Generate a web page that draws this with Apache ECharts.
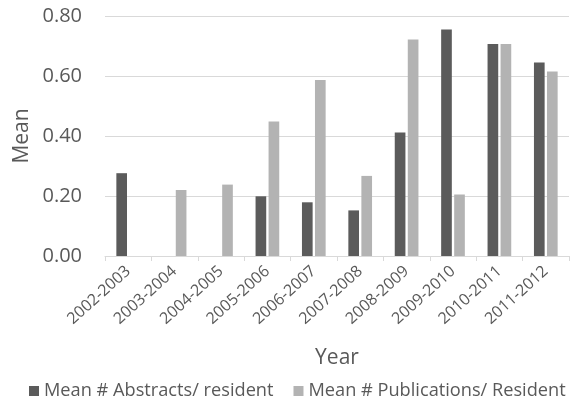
<!DOCTYPE html>
<html><head><meta charset="utf-8">
<script src="https://cdn.jsdelivr.net/npm/echarts@6/dist/echarts.min.js"></script>
<style>html,body{margin:0;padding:0;background:#fff}#c{width:587px;height:400px}</style>
</head><body><div id="c"></div>
<script>
const categories = ['2002-2003','2003-2004','2004-2005','2005-2006','2006-2007','2007-2008','2008-2009','2009-2010','2010-2011','2011-2012'];
const abstracts = [0.276, null, null, 0.199, 0.179, 0.152, 0.412, 0.755, 0.707, 0.645];
const publications = [null, 0.220, 0.238, 0.448, 0.587, 0.267, 0.722, 0.205, 0.707, 0.615];
const yTicks = [0, 0.2, 0.4, 0.6, 0.8];
const FONT = '"Open Sans", "Noto Sans", sans-serif';
const chart = echarts.init(document.getElementById('c'));
chart.setOption({
  animation: false,
  textStyle: { fontFamily: FONT },
  grid: { left: 105, right: 18, top: 16, bottom: 144, outerBoundsMode: 'none', containLabel: false },
  legend: {
    top: 377, left: 24, itemWidth: 10, itemHeight: 10, itemGap: 20, icon: 'rect',
    textStyle: { fontSize: 18.2, color: '#595959', fontFamily: FONT }
  },
  xAxis: {
    type: 'category', data: categories,
    name: 'Year', nameLocation: 'middle', nameGap: 92, nameMoveOverlap: false,
    nameTextStyle: { fontSize: 21, color: '#595959' },
    axisLine: { lineStyle: { color: '#d9d9d9' } },
    axisTick: { show: true, alignWithLabel: false, length: 5, lineStyle: { color: '#d9d9d9' } },
    axisLabel: { rotate: 42, fontSize: 16, color: '#595959', margin: 13, interval: 0 }
  },
  yAxis: {
    type: 'value', min: yTicks[0], max: yTicks[yTicks.length - 1], interval: 0.2,
    name: 'Mean', nameLocation: 'middle', nameGap: 72, nameMoveOverlap: false,
    nameTextStyle: { fontSize: 21, color: '#595959' },
    axisLine: { show: false }, axisTick: { show: false },
    splitLine: { lineStyle: { color: '#d9d9d9' } },
    axisLabel: { fontSize: 20, color: '#595959', margin: 23, formatter: v => v.toFixed(2) }
  },
  series: [
    { name: 'Mean # Abstracts/ resident', type: 'bar', data: abstracts, barWidth: '23%', barGap: '22%', itemStyle: { color: '#5b5b5b' } },
    { name: 'Mean # Publications/ Resident', type: 'bar', data: publications, barWidth: '23%', itemStyle: { color: '#b3b3b3' } }
  ]
});
</script></body></html>
